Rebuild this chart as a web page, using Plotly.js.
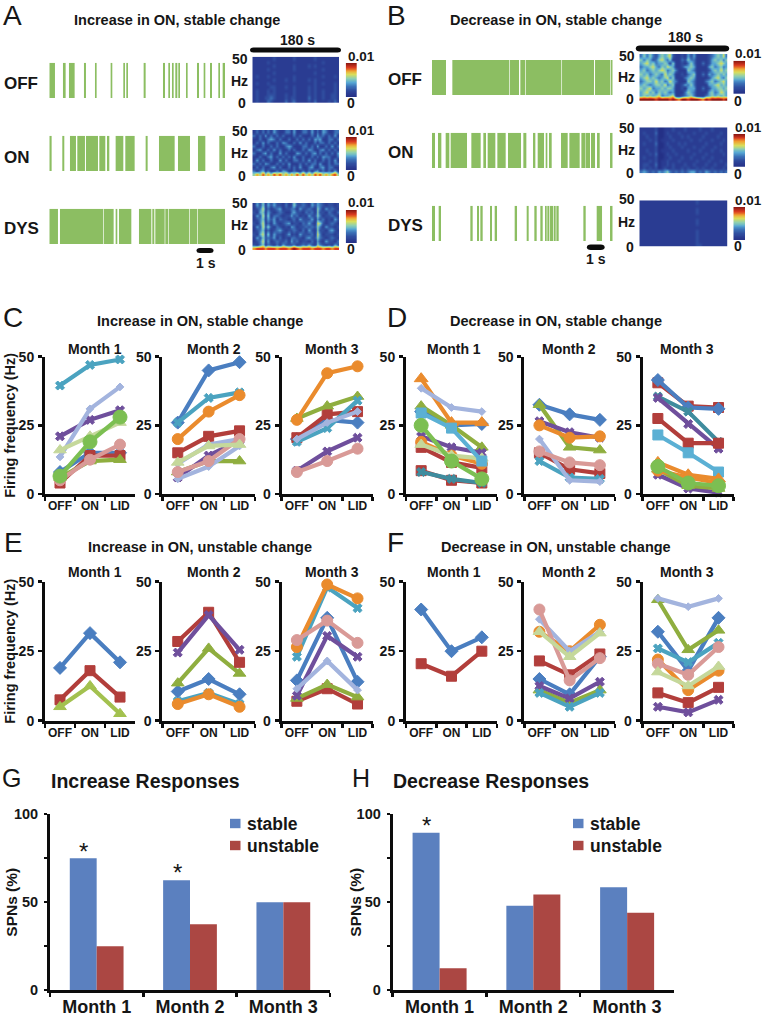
<!DOCTYPE html>
<html><head><meta charset="utf-8">
<script src="https://cdn.plot.ly/plotly-3.0.1.min.js"></script>
<style>html,body{margin:0;padding:0;background:#fff}</style></head>
<body><div id="chart" style="width:762px;height:1021px"></div>
<script>
// ---------- DATA ----------
const phases = ["OFF","ON","LID"];
const months = ["Month 1","Month 2","Month 3"];
const legendNames = ["stable","unstable"];

// [series colour name, OFF, ON, LID] in Hz
const C_month1 = [["blue",8,15,15],["red",4,14,14],["olive",6,12,12.5],["purple",21,27,30.5],["teal",39.5,47,49],["lav",13.5,31,39],["pink",5,12.5,18],["lime",16,21,26],["green",6.5,19,28]];
const C_month2 = [["blue",26,45,48],["red",15,21,23],["olive",8,12,12],["purple",6,14,19.5],["teal",26,35,37],["orange",20,30,36],["lav",5.5,10,17.5],["lav",11,18,20],["pink",8,12,20],["lime",11.5,17.5,18]];
const C_month3 = [["blue",20,27,26],["red",20.5,29,30],["olive",27.5,32,35.5],["purple",8.5,15.5,20.5],["teal",19,24,34],["orange",27,44,46.5],["pink",8,12,16.5],["lav",20,26,30]];
const D_month1 = [["blue",30,25,25.5],["red",17,11.5,9.5],["red",8.5,5,4],["olive",32,25,17],["purple",21,17,15],["deepteal",8,5.5,4],["orange",19,14,11],["orangeT",42,26,26],["lav",38.5,31.5,30],["lime",18,14,13],["sky",29.5,24,12],["green",25,12,5.5]];
const D_month2 = [["blue",32.5,29,27],["red",15,9,7.5],["olive",32.5,17,16],["purple",26.5,22.5,20.5],["teal",12,6,5.5],["orange",25,20.5,21],["lav",20,5,4.5],["pink",15.5,11.5,10.5]];
const D_month3 = [["red",40.5,32,31.5],["blue",41.5,31.5,31],["deepteal",35.5,30,19],["purple",35,25.5,16.5],["red",27.5,18.5,18.5],["sky",21.5,15,8],["purple",7,2,0.5],["olive",9,3,2],["orange",8.5,6,4],["orangeT",11.5,7,5.5],["green",10,4,3]];
const E_month1 = [["blue",19,31.5,21],["red",7.5,18,8.5],["oliveL",5,12.5,2.5]];
const E_month2 = [["blue",10.5,15,9.5],["teal",7,10,6],["orange",6,9.5,5],["olive",13.5,26,17],["red",28.5,39,21],["purple",24.5,38,25.5]];
const E_month3 = [["blue",14.5,37,14],["red",7,11.5,6],["olive",8,13,8.5],["purple",9,30.5,23],["teal",23,48,40.5],["orange",26.5,49,44],["lav",11.5,21.5,11],["pink",29,36,28]];
const F_month1 = [["blue",40,25,30],["red",20.5,16,25]];
const F_month2 = [["blue",15,9.5,23],["red",21.5,16.5,24],["olive",11,6.5,11],["purple",12.5,8,14],["teal",10,5,10],["orange",32,25,34.5],["lav",36.5,25,32],["pink",40,14.5,22.5],["lime",32,23,31.5]];
const F_month3 = [["blue",32,18,37],["red",10,6.5,12],["olive",43.5,25.5,32.5],["purple",5,3,7.5],["teal",26,21,28],["orange",22,11,18],["lav",44,41,44],["pink",20.5,16.5,26.5],["lime",17.5,12.5,19.5]];

const G_stable = [75,62.5,50];
const G_unstable = [25,37.5,50];
const H_stable = [89.5,48,58.5];
const H_unstable = [12.5,54.5,44];

// burst [start, end] in seconds
const A_off = [[0,.34],[.82,.98],[1.18,1.52],[2.08,2.2],[2.74,2.84],[3.68,3.78],[4.44,4.54],[4.62,4.72],[5.66,5.78],[6.82,6.94],[7.14,7.24],[7.36,7.46],[7.56,7.68],[7.74,7.84],[8.2,8.3],[8.86,8.98],[9.26,9.36],[9.64,9.76],[10.14,10.24],[10.4,10.54]];
const A_on = [[0,.14],[.78,.9],[1.24,1.6],[1.68,2.14],[2.2,2.92],[3,3.36],[3.46,3.6],[3.98,4.44],[4.56,5.12],[5.78,5.9],[6.58,7.52],[7.72,8.44],[8.92,9.36],[10.2,10.54]];
const A_dys = [[0,.52],[.64,3.24],[3.28,3.86],[3.98,4.08],[4.18,4.92],[5.38,6.12],[6.18,6.3],[6.36,6.92],[6.96,7.14],[7.18,8.4],[8.44,8.88],[8.92,10.54]];
const B_off = [[0,.84],[1.22,4.64],[4.68,5.22],[5.3,5.58],[5.62,7.76],[7.8,9.72],[9.78,10.7],[10.74,10.84]];
const B_on = [[0,.18],[.36,.56],[.82,1.04],[1.12,2.1],[2.36,2.92],[3.08,3.24],[3.34,3.8],[3.92,4.42],[4.56,5.34],[5.48,5.66],[6.06,6.2],[6.34,6.72],[6.82,6.92],[7.02,7.18],[7.74,8.14],[8.24,8.86],[8.96,9.2],[9.22,9.48],[9.54,9.78],[9.9,10.06],[10.68,10.84]];
const B_dys = [[0,.18],[.4,.54],[2.3,2.44],[2.7,2.82],[2.9,3.04],[3.48,3.6],[3.76,3.9],[4.96,5.1],[5.68,5.8],[6.14,6.28],[6.5,6.64],[6.78,6.88],[6.92,7.04],[7.08,7.26],[7.3,7.42],[7.46,7.6],[9.08,9.22],[9.88,10.2],[10.68,10.84]];

// spectrogram power levels, estimated (top row = 50 Hz, last row = 0 Hz)
const S_A_off = ["111111121111112111111211111111","111112111111111111111111211111","111111121111112111121211111111","111112111111112111111111211111","111111121111111111111211111111","121112111111112111111111211121","111111121112112111121211111111","121112111111111111111211211121","111111221112112111121211111121","121112121111112111121211211121","121112221112112111121211211221","121122321112122111131211211221","121113211113123111121311112131"];
const S_A_on = ["131313142113314113314131431133","313141313131113131113142313141","113113431311311313131434113313","131413113143113141311313313131","311311313113431113313141131413","134113141311313113143113413131","311341311413111431313413131314","113113413131314113113131433113","141311311413113313141311313141","313143113131411131313314113133","131311341311313141134113413311","313413113143113113131341313141","575857586857575858575868575785"];
const S_A_dys = ["142514242213125223214243212212","123613123412233142232153142321","214514212321134221323152213213","142615133212242312142253122321","123514241322123142224142312142","213613142123412213242165212321","142625213212143122323253142212","123513123421223213142152213421","214615142212412142223163122212","142523241312133221342253212321","123614123223142312213142142213","213513213142223123242153212142","788878887888789878887888788788"];
const S_B_off = ["353532454562112142411112345463","535423564351113253311112454535","456453445425112135311312445654","344564354654112445411114534534","453454565345311154311112454645","545345436454112134511314345454","456454345635111345411112456435","345546453464311154311134534564","454345546345112435311114456454","545634454554112144411312445545","456453545434111354311114534654","454545634456112345311134545454","999998999989879989998798999989"];
const S_B_on = ["111112001112111211112111211111","121113001211121111211121111211","112112001121112121111211112111","111212011112111112112111211121","121113001211121211111121111211","111112001121112111211211121111","112112011112111121112111211211","111213001211211111211121111121","121112001121112112111211211111","111212011211121111121112111211","122113011212111211211121121112","121212012112112121121211211121","343232434532323234423243232323"];
const S_B_dys = ["111111111111111111121111111111","111111111111111111111111111111","111111111111111111121111111111","111111111111111111121111111111","111111111111111111111111111111","111111111111111111121111111111","111111111111111111121111111111","111111111111111111111111111111","111111111111111111121111111111","111111111111111111121111111111","111111111111111111121111111111","111111111111111111121111111111","111111111111111111122111111111"];
const colorbarLevels = [[9],[8],[7],[6],[5],[4],[3],[2],[1],[0]];

// ---------- STYLE ----------
const W=762,H=1021,FONT='"Liberation Sans",Arial,sans-serif',INK='#161616';
const seriesStyle={
 blue:['#4a7ec0','diamond',10],red:['#b23e3b','square',10],olive:['#8fae3f','triangle-up',11],oliveL:['#a3c14f','triangle-up',11],
 purple:['#6f4f9c','x',8],teal:['#4ba3c0','x',8],deepteal:['#3f8c9e','x',8],orange:['#ea8b2d','circle',11],orangeT:['#ea8b2d','triangle-up',12],
 lav:['#a3b4de','diamond',6],pink:['#d99a97','circle',11],lime:['#c5d89b','triangle-up',11],green:['#7cbf52','circle',14],sky:['#5bb0d4','square',10]};
const heatScale=[[0,'#243086'],[1/9,'#2a3c92'],[2/9,'#304fa0'],[3/9,'#3c72b8'],[4/9,'#58a8d4'],[5/9,'#8fd0b0'],[6/9,'#d9dd5a'],[7/9,'#f0a030'],[8/9,'#d93a20'],[1,'#8f1a14']];
const layout={width:W,height:H,margin:{l:0,r:0,t:0,b:0},paper_bgcolor:'#fff',plot_bgcolor:'rgba(0,0,0,0)',
 font:{family:FONT,color:INK},bargap:.424,bargroupgap:0,barmode:'group',hovermode:false,annotations:[],shapes:[],showlegend:false};
const traces=[];let axN=0;
function axes(l,r,t,b,xo,yo){axN++;const s=axN===1?'':axN;
 layout['xaxis'+s]=Object.assign({domain:[l/W,r/W],anchor:'y'+s,showgrid:false,zeroline:false,fixedrange:true},xo);
 layout['yaxis'+s]=Object.assign({domain:[1-b/H,1-t/H],anchor:'x'+s,showgrid:false,zeroline:false,fixedrange:true},yo);
 return {xaxis:'x'+s,yaxis:'y'+s};}
function txt(text,x,y,size,o={}){layout.annotations.push(Object.assign({text,x:x/W,y:1-y/H,xref:'paper',yref:'paper',showarrow:false,
 xanchor:'center',yanchor:'middle',font:{size,family:FONT,color:INK,weight:o.weight||'bold'}},o.a||{}));}
function hidden(range){return {visible:false,range};}

// ---------- raster + spectrogram ----------
function raster(bursts,l,r,t,b,tmax){const a=axes(l,r,t,b,hidden([0,tmax]),hidden([0,1]));
 traces.push(Object.assign({type:'bar',x:bursts.map(d=>d[0]),y:bursts.map(()=>1),width:bursts.map(d=>d[1]-d[0]),offset:0,
  marker:{color:'#8cbe62',line:{width:0}},showlegend:false},a));}
function spectro(rows,l,r,t,b){const a=axes(l,r,t,b,hidden([-.5,rows[0].length-.5]),hidden([rows.length-.5,-.5]));
 traces.push(Object.assign({type:'heatmap',z:rows.map(s=>s.split('').map(Number)),zmin:0,zmax:9,colorscale:heatScale,showscale:false,zsmooth:'best'},a));}
function cbar(l,r,t,b){const a=axes(l,r,t,b,hidden([-.5,.5]),hidden([9,0]));
 traces.push(Object.assign({type:'heatmap',z:colorbarLevels,zmin:0,zmax:9,colorscale:heatScale,showscale:false,zsmooth:'best'},a));}
function roundBar(x0,x1,y0,y1){const X=v=>v/W,Y=v=>1-v/H,q=(y1-y0)/2;
 layout.shapes.push({type:'path',xref:'paper',yref:'paper',line:{width:0},fillcolor:'#0c0c0c',
  path:`M${X(x0+q)},${Y(y0)} L${X(x1-q)},${Y(y0)} Q${X(x1+q*.4)},${Y(y0)} ${X(x1+q*.4)},${Y((y0+y1)/2)} Q${X(x1+q*.4)},${Y(y1)} ${X(x1-q)},${Y(y1)} L${X(x0+q)},${Y(y1)} Q${X(x0-q*.4)},${Y(y1)} ${X(x0-q*.4)},${Y((y0+y1)/2)} Q${X(x0-q*.4)},${Y(y0)} ${X(x0+q)},${Y(y0)} Z`});}

[[A_off,62.7,98],[A_on,135.7,171],[A_dys,208.7,244]].forEach(d=>raster(d[0],49.3,225,d[1],d[2],10.54));
[[B_off,60,95],[B_on,132.7,168],[B_dys,205.7,241]].forEach(d=>raster(d[0],432,612.7,d[1],d[2],10.84));
[[S_A_off,56.7,103],[S_A_on,130,176],[S_A_dys,203,250]].forEach(d=>spectro(d[0],252.3,339,d[1],d[2]));
[[S_B_off,54,100.7],[S_B_on,127.3,173.3],[S_B_dys,200.3,246.7]].forEach(d=>spectro(d[0],639.3,727.7,d[1],d[2]));
[[63,97],[137,170],[210,243]].forEach(d=>cbar(345.7,357,d[0],d[1]));
[[60.7,94],[134,166.7],[207,240]].forEach(d=>cbar(733.3,745,d[0],d[1]));
roundBar(251,340,47.5,52.5);roundBar(637,728,45.5,51.5);roundBar(197.5,212.5,248,253);roundBar(588,603.5,244.5,250);

const left={a:{xanchor:'left'}},right={a:{xanchor:'right'}};
[['OFF',83],['ON',157],['DYS',228]].forEach(d=>txt(d[0],2,d[1],17,left));
[['OFF',80],['ON',153],['DYS',226]].forEach(d=>txt(d[0],386,d[1],17,left));
[[59,81,103],[131,153,176],[203,225,250]].forEach(d=>{txt('50',250,d[0],14,right);txt('Hz',250,d[1],14,right);txt('0',248,d[2],14,right);});
[[56,77,99],[128,150,173],[199,222,247]].forEach(d=>{txt('50',637,d[0],14,right);txt('Hz',637,d[1],14,right);txt('0',636,d[2],14,right);});
[[57,103],[130,176],[203,249]].forEach(d=>{txt('0.01',346,d[0],13.5,left);txt('0',351,d[1],14);});
[[53,101],[127,174],[200,246]].forEach(d=>{txt('0.01',733,d[0],13.5,left);txt('0',738,d[1],14);});
txt('180 s',297.7,40,14);txt('180 s',685.3,36.7,14);txt('1 s',206,263,14);txt('1 s',596,259,14);

// ---------- line panels ----------
const linkAxis={showline:true,linecolor:'#0c0c0c',linewidth:3,ticks:'outside',tickcolor:'#0c0c0c',tickwidth:2.5,ticklen:4};
function linePanel(series,l,r,t,b,title){
 const a=axes(l,r,t,b,Object.assign({type:'category',categoryorder:'array',categoryarray:phases,range:[-.5,2.5],tickson:'boundaries',tickangle:0,
   tickfont:{family:FONT,size:12,weight:'bold',color:INK},ticklabelstandoff:-1},linkAxis),
  Object.assign({range:[0,50],tickvals:[0,25,50],tickfont:{family:FONT,size:14,weight:'bold',color:INK},ticklabelstandoff:1},linkAxis,title?{title:{text:title,standoff:0,font:{size:14.5,weight:'bold',color:INK}}}:{}));
 series.forEach(s=>{const st=seriesStyle[s[0]];
  traces.push(Object.assign({type:'scatter',mode:'lines+markers',x:phases,y:s.slice(1),cliponaxis:false,showlegend:false,
   line:{color:st[0],width:4.2},marker:{color:st[0],symbol:st[1],size:st[2],line:{color:st[0],width:1}}},a));});
}
const xsL=[[45,135],[162.3,255],[281.7,372.7]],xsR=[[406,497],[524.3,615],[642.7,733.7]];
[C_month1,C_month2,C_month3].forEach((s,i)=>linePanel(s,xsL[i][0],xsL[i][1],356.7,494,i===0?'Firing frequency (Hz)':''));
[D_month1,D_month2,D_month3].forEach((s,i)=>linePanel(s,xsR[i][0],xsR[i][1],356.7,494));
[E_month1,E_month2,E_month3].forEach((s,i)=>linePanel(s,xsL[i][0],xsL[i][1],581.7,720.7,i===0?'Firing frequency (Hz)':''));
[F_month1,F_month2,F_month3].forEach((s,i)=>linePanel(s,xsR[i][0],xsR[i][1],581.7,720.7));
[95,214,332].forEach((x,i)=>{txt(months[i],x,349,14);txt(months[i],x,571.7,14);});
[453.7,568.7,687].forEach((x,i)=>{txt(months[i],x,349,14);txt(months[i],x,571.7,14);});

// ---------- bar panels ----------
function barPanel(st,un,l,r){
 const a=axes(l,r,814.3,990.3,Object.assign({type:'category',range:[-.5,2.5],tickson:'boundaries',tickangle:0,tickfont:{size:18,weight:'bold',color:INK},ticklabelstandoff:-2},linkAxis,{ticklen:4}),
  Object.assign({range:[0,100],tickvals:[0,25,50,75,100],ticktext:['0','','50','','100'],tickfont:{size:14.5,weight:'bold',color:INK},ticklabelstandoff:3},linkAxis,{ticklen:3,tickwidth:2}));
 traces.push(Object.assign({type:'bar',name:legendNames[0],x:months,y:st,marker:{color:'#5b80bf'}},a));
 traces.push(Object.assign({type:'bar',name:legendNames[1],x:months,y:un,marker:{color:'#ab4743'}},a));
}
barPanel(G_stable,G_unstable,50,330);
barPanel(H_stable,H_unstable,392.7,674);
function legendItem(x,y,color,label){
 layout.shapes.push({type:'rect',xref:'paper',yref:'paper',x0:x/W,x1:(x+10.5)/W,y0:1-(y-4.7)/H,y1:1-(y+4.7)/H,fillcolor:color,line:{width:0}});
 txt(label,x+15,y,17.5,left);}
legendItem(230,823.5,'#5b80bf',legendNames[0]);legendItem(230,845.5,'#ab4743',legendNames[1]);
legendItem(573,823.5,'#5b80bf',legendNames[0]);legendItem(573,845.5,'#ab4743',legendNames[1]);
[[12,'SPNs (%)'],[356,'SPNs (%)']].forEach(d=>txt(d[1],d[0],902.7,15.5,{a:{textangle:-90}}));
txt('*',83,851,24,{weight:'normal'});txt('*',177,872,24,{weight:'normal'});txt('*',426,825,24,{weight:'normal'});

// ---------- titles + letters ----------
[['Increase in ON, stable change',176.7,20],['Decrease in ON, stable change',556,20],['Increase in ON, stable change',200,320.7],['Decrease in ON, stable change',556,320.7],['Increase in ON, unstable change',200,546.7],['Decrease in ON, unstable change',556,546.7]].forEach(d=>txt(d[0],d[1],d[2],14.5));
txt('Increase Responses',145.5,781,19.5);txt('Decrease Responses',490.7,781,19.5);
[['A',1,15],['B',385,15],['C',1,317],['D',385,317],['E',2,542],['F',385,542]].forEach(d=>txt(d[0],d[1],d[2],28,{weight:'normal',a:{xanchor:'left'}}));
[['G',0,778],['H',350,778]].forEach(d=>txt(d[0],d[1],d[2],25,{weight:'normal',a:{xanchor:'left'}}));

Plotly.newPlot('chart',traces,layout,{staticPlot:true,displayModeBar:false});
</script></body></html>
